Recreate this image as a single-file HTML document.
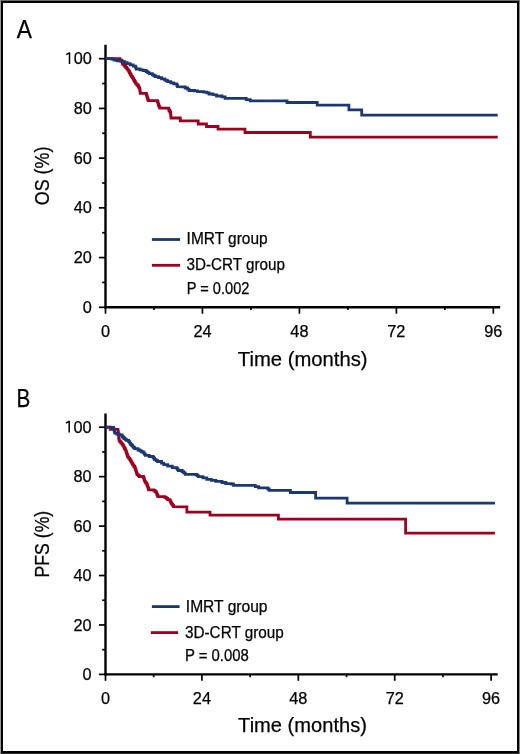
<!DOCTYPE html>
<html><head><meta charset="utf-8"><title>Kaplan-Meier OS and PFS</title>
<style>
html,body{margin:0;padding:0;background:#fff;}
body{width:520px;height:754px;overflow:hidden;position:relative;}
.frame{position:absolute;left:0;top:0;width:520px;height:754px;box-sizing:border-box;border:1px solid;border-color:#6a6a6a #888 #333 #999;}
.inner{position:absolute;left:1px;top:1px;width:518px;height:752px;box-sizing:border-box;border:2px solid #000;}
svg{position:absolute;left:0;top:0;will-change:transform;}
text{font-family:"Liberation Sans", sans-serif;fill:#000;stroke:#000;stroke-width:0.25px;}
</style></head>
<body>
<div class="frame"></div>
<div class="inner"></div>
<svg width="520" height="754" viewBox="0 0 520 754">
<line x1="105.5" y1="44.8" x2="105.5" y2="308.5" stroke="#000" stroke-width="2.4"/>
<line x1="104.3" y1="307.3" x2="500.2" y2="307.3" stroke="#000" stroke-width="2.4"/>
<line x1="98.9" y1="307.30" x2="105.5" y2="307.30" stroke="#000" stroke-width="1.7"/>
<text x="91.8" y="312.90" text-anchor="end" font-size="16.3">0</text>
<line x1="102.2" y1="282.44" x2="105.5" y2="282.44" stroke="#000" stroke-width="1.7"/>
<line x1="98.9" y1="257.58" x2="105.5" y2="257.58" stroke="#000" stroke-width="1.7"/>
<text x="91.8" y="263.18" text-anchor="end" font-size="16.3">20</text>
<line x1="102.2" y1="232.72" x2="105.5" y2="232.72" stroke="#000" stroke-width="1.7"/>
<line x1="98.9" y1="207.86" x2="105.5" y2="207.86" stroke="#000" stroke-width="1.7"/>
<text x="91.8" y="213.46" text-anchor="end" font-size="16.3">40</text>
<line x1="102.2" y1="183.00" x2="105.5" y2="183.00" stroke="#000" stroke-width="1.7"/>
<line x1="98.9" y1="158.14" x2="105.5" y2="158.14" stroke="#000" stroke-width="1.7"/>
<text x="91.8" y="163.74" text-anchor="end" font-size="16.3">60</text>
<line x1="102.2" y1="133.28" x2="105.5" y2="133.28" stroke="#000" stroke-width="1.7"/>
<line x1="98.9" y1="108.42" x2="105.5" y2="108.42" stroke="#000" stroke-width="1.7"/>
<text x="91.8" y="114.02" text-anchor="end" font-size="16.3">80</text>
<line x1="102.2" y1="83.56" x2="105.5" y2="83.56" stroke="#000" stroke-width="1.7"/>
<line x1="98.9" y1="58.70" x2="105.5" y2="58.70" stroke="#000" stroke-width="1.7"/>
<text x="91.8" y="64.30" text-anchor="end" font-size="16.3">00</text>
<path d="M66.30,54.70 L69.60,52.70 M69.50,52.60 L69.50,64.00" fill="none" stroke="#000" stroke-width="1.5"/>
<line x1="105.50" y1="307.3" x2="105.50" y2="313.7" stroke="#000" stroke-width="1.7"/>
<text x="105.50" y="336.8" text-anchor="middle" font-size="16.3">0</text>
<line x1="153.98" y1="307.3" x2="153.98" y2="310.1" stroke="#000" stroke-width="1.7"/>
<line x1="202.46" y1="307.3" x2="202.46" y2="313.7" stroke="#000" stroke-width="1.7"/>
<text x="202.46" y="336.8" text-anchor="middle" font-size="16.3">24</text>
<line x1="250.94" y1="307.3" x2="250.94" y2="310.1" stroke="#000" stroke-width="1.7"/>
<line x1="299.42" y1="307.3" x2="299.42" y2="313.7" stroke="#000" stroke-width="1.7"/>
<text x="299.42" y="336.8" text-anchor="middle" font-size="16.3">48</text>
<line x1="347.90" y1="307.3" x2="347.90" y2="310.1" stroke="#000" stroke-width="1.7"/>
<line x1="396.38" y1="307.3" x2="396.38" y2="313.7" stroke="#000" stroke-width="1.7"/>
<text x="396.38" y="336.8" text-anchor="middle" font-size="16.3">72</text>
<line x1="444.86" y1="307.3" x2="444.86" y2="310.1" stroke="#000" stroke-width="1.7"/>
<line x1="493.34" y1="307.3" x2="493.34" y2="313.7" stroke="#000" stroke-width="1.7"/>
<text x="493.34" y="336.8" text-anchor="middle" font-size="16.3">96</text>
<polyline points="105.50,58.60 120.00,58.60 120.00,60.20 121.80,60.20 121.80,61.50 122.20,61.50 122.20,62.75 122.60,62.75 122.60,64.00 123.67,64.00 123.67,65.17 124.73,65.17 124.73,66.33 125.80,66.33 125.80,67.50 126.83,67.50 126.83,68.83 127.87,68.83 127.87,70.17 128.90,70.17 128.90,71.50 129.47,71.50 129.47,72.67 130.03,72.67 130.03,73.83 130.60,73.83 130.60,75.00 131.43,75.00 131.43,76.33 132.27,76.33 132.27,77.67 133.10,77.67 133.10,79.00 133.85,79.00 133.85,80.30 134.60,80.30 134.60,81.60 135.35,81.60 135.35,82.90 136.10,82.90 136.10,84.20 137.20,84.20 137.20,85.25 138.30,85.25 138.30,86.30 138.80,86.30 138.80,87.37 139.30,87.37 139.30,88.43 139.80,88.43 139.80,89.50 139.97,89.50 139.97,90.77 140.13,90.77 140.13,92.03 140.30,92.03 140.30,93.30 146.00,93.40 146.38,93.40 146.38,94.68 146.75,94.68 146.75,95.95 147.12,95.95 147.12,97.22 147.50,97.22 147.50,98.50 147.90,98.50 147.90,99.55 148.30,99.55 148.30,100.60 156.80,100.60 157.35,100.60 157.35,101.70 157.90,101.70 157.90,102.80 158.30,102.80 158.30,104.30 158.70,104.30 158.70,105.80 159.25,105.80 159.25,106.95 159.80,106.95 159.80,108.10 168.30,108.20 168.70,108.20 168.70,109.35 169.10,109.35 169.10,110.50 169.85,110.50 169.85,112.00 170.60,112.00 170.60,113.50 170.70,113.50 170.70,114.62 170.80,114.62 170.80,115.75 170.90,115.75 170.90,116.88 171.00,116.88 171.00,118.00 180.00,118.00 180.20,118.00 180.20,119.45 180.40,119.45 180.40,120.90 198.20,120.90 198.20,124.00 206.50,124.00 206.50,126.50 218.00,126.50 218.00,129.20 245.00,129.20 245.00,132.50 310.30,132.50 310.30,137.20 497.70,137.20" fill="none" stroke="#9f0020" stroke-width="2.8" stroke-linejoin="miter"/>
<polyline points="105.50,58.60 106.30,58.60 111.70,58.60 111.70,59.00 114.00,59.00 114.00,60.00 117.10,60.00 117.10,60.80 120.20,60.80 120.20,61.10 122.50,61.10 122.50,61.70 124.80,61.70 124.80,62.60 127.10,62.60 127.10,63.60 130.20,63.60 130.20,64.80 133.20,64.80 133.20,66.20 135.50,66.20 135.50,67.10 135.90,67.10 135.90,68.05 136.30,68.05 136.30,69.00 140.20,69.00 140.20,69.80 143.10,69.80 143.10,70.50 146.20,70.50 146.20,71.70 147.70,71.70 147.70,72.65 149.20,72.65 149.20,73.60 152.30,73.60 152.30,74.80 153.85,74.80 153.85,75.75 155.40,75.75 155.40,76.70 158.50,76.70 158.50,77.70 161.50,77.70 161.50,78.80 164.60,78.80 164.60,79.80 166.15,79.80 166.15,80.75 167.70,80.75 167.70,81.70 170.80,81.70 170.80,82.80 173.80,82.80 173.80,83.80 176.90,83.80 176.90,85.50 177.50,85.50 177.50,86.60 183.00,86.80 185.20,86.80 185.20,88.00 187.50,88.00 187.50,89.20 189.10,89.20 189.10,90.50 194.50,90.50 194.50,90.90 197.50,90.90 197.50,91.70 203.70,91.70 203.70,92.10 206.80,92.10 206.80,92.80 209.10,92.80 209.10,94.00 212.90,94.00 212.90,94.50 215.10,94.80 216.60,94.80 216.60,96.00 222.00,96.00 222.00,96.80 225.10,96.80 225.10,98.30 246.20,98.30 246.20,99.60 250.20,99.60 250.20,100.90 287.00,100.90 287.00,102.50 317.20,102.50 317.20,105.20 348.90,105.20 348.90,109.90 361.70,109.90 361.70,115.20 497.70,115.20" fill="none" stroke="#1c3870" stroke-width="2.8" stroke-linejoin="miter"/>
<line x1="151.9" y1="239.5" x2="180.1" y2="239.5" stroke="#1c3870" stroke-width="2.8"/>
<line x1="151.9" y1="265.3" x2="180.1" y2="265.3" stroke="#9f0020" stroke-width="2.8"/>
<text x="186.6" y="244.2" font-size="16.3" textLength="81" lengthAdjust="spacingAndGlyphs">IMRT group</text>
<text x="186.5" y="270.4" font-size="16.3" textLength="98.5" lengthAdjust="spacingAndGlyphs">3D-CRT group</text>
<text x="186.7" y="294.0" font-size="16.3" textLength="62.7" lengthAdjust="spacingAndGlyphs">P = 0.002</text>
<text x="16.7" y="38.2" font-size="26.3" textLength="15.2" lengthAdjust="spacingAndGlyphs">A</text>
<text x="237.8" y="365.5" font-size="20.6" textLength="129.8" lengthAdjust="spacingAndGlyphs">Time (months)</text>
<text transform="translate(48.7,205.2) rotate(-90)" x="0" y="0" font-size="20.8" textLength="58.6" lengthAdjust="spacingAndGlyphs">OS (%)</text>
<line x1="105.5" y1="413.4" x2="105.5" y2="675.6" stroke="#000" stroke-width="2.4"/>
<line x1="104.3" y1="674.4" x2="497.7" y2="674.4" stroke="#000" stroke-width="2.4"/>
<line x1="98.9" y1="674.40" x2="105.5" y2="674.40" stroke="#000" stroke-width="1.7"/>
<text x="91.5" y="680.00" text-anchor="end" font-size="16.3">0</text>
<line x1="102.2" y1="649.68" x2="105.5" y2="649.68" stroke="#000" stroke-width="1.7"/>
<line x1="98.9" y1="624.96" x2="105.5" y2="624.96" stroke="#000" stroke-width="1.7"/>
<text x="91.5" y="630.56" text-anchor="end" font-size="16.3">20</text>
<line x1="102.2" y1="600.24" x2="105.5" y2="600.24" stroke="#000" stroke-width="1.7"/>
<line x1="98.9" y1="575.52" x2="105.5" y2="575.52" stroke="#000" stroke-width="1.7"/>
<text x="91.5" y="581.12" text-anchor="end" font-size="16.3">40</text>
<line x1="102.2" y1="550.80" x2="105.5" y2="550.80" stroke="#000" stroke-width="1.7"/>
<line x1="98.9" y1="526.08" x2="105.5" y2="526.08" stroke="#000" stroke-width="1.7"/>
<text x="91.5" y="531.68" text-anchor="end" font-size="16.3">60</text>
<line x1="102.2" y1="501.36" x2="105.5" y2="501.36" stroke="#000" stroke-width="1.7"/>
<line x1="98.9" y1="476.64" x2="105.5" y2="476.64" stroke="#000" stroke-width="1.7"/>
<text x="91.5" y="482.24" text-anchor="end" font-size="16.3">80</text>
<line x1="102.2" y1="451.92" x2="105.5" y2="451.92" stroke="#000" stroke-width="1.7"/>
<line x1="98.9" y1="427.20" x2="105.5" y2="427.20" stroke="#000" stroke-width="1.7"/>
<text x="91.5" y="432.80" text-anchor="end" font-size="16.3">00</text>
<path d="M66.00,423.20 L69.30,421.20 M69.20,421.10 L69.20,432.50" fill="none" stroke="#000" stroke-width="1.5"/>
<line x1="105.50" y1="674.4" x2="105.50" y2="680.8" stroke="#000" stroke-width="1.7"/>
<text x="105.50" y="703.5" text-anchor="middle" font-size="16.3">0</text>
<line x1="153.70" y1="674.4" x2="153.70" y2="677.1999999999999" stroke="#000" stroke-width="1.7"/>
<line x1="201.91" y1="674.4" x2="201.91" y2="680.8" stroke="#000" stroke-width="1.7"/>
<text x="201.91" y="703.5" text-anchor="middle" font-size="16.3">24</text>
<line x1="250.11" y1="674.4" x2="250.11" y2="677.1999999999999" stroke="#000" stroke-width="1.7"/>
<line x1="298.32" y1="674.4" x2="298.32" y2="680.8" stroke="#000" stroke-width="1.7"/>
<text x="298.32" y="703.5" text-anchor="middle" font-size="16.3">48</text>
<line x1="346.52" y1="674.4" x2="346.52" y2="677.1999999999999" stroke="#000" stroke-width="1.7"/>
<line x1="394.72" y1="674.4" x2="394.72" y2="680.8" stroke="#000" stroke-width="1.7"/>
<text x="394.72" y="703.5" text-anchor="middle" font-size="16.3">72</text>
<line x1="442.93" y1="674.4" x2="442.93" y2="677.1999999999999" stroke="#000" stroke-width="1.7"/>
<line x1="491.13" y1="674.4" x2="491.13" y2="680.8" stroke="#000" stroke-width="1.7"/>
<text x="491.13" y="703.5" text-anchor="middle" font-size="16.3">96</text>
<polyline points="105.50,427.20 110.30,427.20 110.30,429.40 118.00,429.40 118.30,432.00 118.40,432.00 118.40,433.35 118.50,433.35 118.50,434.70 118.60,434.70 118.60,436.05 118.70,436.05 118.70,437.40 118.87,437.40 118.87,438.53 119.03,438.53 119.03,439.67 119.20,439.67 119.20,440.80 120.15,440.80 120.15,442.00 121.10,442.00 121.10,443.20 122.05,443.20 122.05,444.40 123.00,444.40 123.00,445.60 123.75,445.60 123.75,447.05 124.50,447.05 124.50,448.50 125.20,448.50 125.20,449.95 125.90,449.95 125.90,451.40 126.40,451.40 126.40,452.85 126.90,452.85 126.90,454.30 127.40,454.30 127.40,455.75 127.90,455.75 127.90,457.20 128.85,457.20 128.85,458.40 129.80,458.40 129.80,459.60 130.50,459.60 130.50,460.80 131.20,460.80 131.20,462.00 131.95,462.00 131.95,463.40 132.70,463.40 132.70,464.80 133.75,464.80 133.75,466.25 134.80,466.25 134.80,467.70 135.17,467.70 135.17,468.73 135.53,468.73 135.53,469.77 135.90,469.77 135.90,470.80 136.30,470.80 136.30,472.07 136.70,472.07 136.70,473.33 137.10,473.33 137.10,474.60 138.25,474.60 138.25,475.55 139.40,475.55 139.40,476.50 143.50,476.50 143.50,477.50 143.87,477.50 143.87,478.73 144.23,478.73 144.23,479.97 144.60,479.97 144.60,481.20 145.37,481.20 145.37,482.33 146.13,482.33 146.13,483.47 146.90,483.47 146.90,484.60 147.35,484.60 147.35,485.90 147.80,485.90 147.80,487.20 148.25,487.20 148.25,488.50 148.70,488.50 148.70,489.80 153.80,489.80 153.80,490.40 155.00,490.40 155.00,491.55 156.20,491.55 156.20,492.70 156.77,492.70 156.77,494.03 157.33,494.03 157.33,495.37 157.90,495.37 157.90,496.70 164.80,496.70 164.80,497.30 166.25,497.30 166.25,498.45 167.70,498.45 167.70,499.60 170.00,499.60 170.00,500.80 170.57,500.80 170.57,501.93 171.13,501.93 171.13,503.07 171.70,503.07 171.70,504.20 172.60,504.20 172.60,505.45 173.50,505.45 173.50,506.70 186.90,506.90 186.90,512.10 210.00,512.10 210.00,515.20 278.40,515.20 278.40,519.10 405.60,519.10 405.60,533.10 494.90,533.10" fill="none" stroke="#9f0020" stroke-width="2.8" stroke-linejoin="miter"/>
<polyline points="105.50,427.20 112.50,427.40 113.60,427.40 113.60,428.50 113.90,428.50 113.90,429.65 114.20,429.65 114.20,430.80 114.50,430.80 114.50,431.95 114.80,431.95 114.80,433.10 116.70,433.10 116.70,434.20 119.40,434.20 119.40,435.00 122.10,435.00 122.10,436.50 123.05,436.50 123.05,437.50 124.00,437.50 124.00,438.50 125.15,438.50 125.15,439.45 126.30,439.45 126.30,440.40 128.60,440.40 128.60,441.70 129.65,441.70 129.65,443.10 130.70,443.10 130.70,444.50 131.75,444.50 131.75,445.65 132.80,445.65 132.80,446.80 133.80,446.80 133.80,447.75 134.80,447.75 134.80,448.70 138.00,448.70 138.00,450.00 140.00,450.00 140.00,450.80 141.55,450.80 141.55,451.75 143.10,451.75 143.10,452.70 144.25,452.70 144.25,454.05 145.40,454.05 145.40,455.40 149.20,455.40 149.20,456.50 153.10,456.50 153.10,457.30 153.85,457.30 153.85,458.45 154.60,458.45 154.60,459.60 156.15,459.60 156.15,460.55 157.70,460.55 157.70,461.50 161.50,461.50 161.50,463.10 163.80,463.10 163.80,464.60 167.70,464.60 167.70,466.20 172.30,466.20 172.30,467.70 176.90,467.70 176.90,468.70 177.60,468.70 177.60,469.60 178.30,469.60 178.30,470.50 182.20,470.50 182.20,471.60 183.70,471.60 183.70,472.95 185.20,472.95 185.20,474.30 196.00,474.30 196.00,474.70 197.15,474.70 197.15,475.65 198.30,475.65 198.30,476.60 202.90,476.60 202.90,477.80 206.80,477.80 206.80,479.30 211.40,479.30 211.40,480.40 215.80,480.40 215.80,481.30 222.00,481.30 222.00,482.50 225.80,482.50 225.80,483.60 231.20,483.60 231.20,484.00 233.50,484.00 233.50,485.30 254.30,485.30 255.30,485.30 255.30,486.70 257.70,486.70 258.70,486.70 258.70,487.80 266.80,487.80 267.80,487.80 267.80,489.00 269.20,489.00 269.20,490.40 290.40,490.40 290.40,492.50 315.60,492.50 315.60,498.20 347.10,498.20 347.10,503.10 494.90,503.10" fill="none" stroke="#1c3870" stroke-width="2.8" stroke-linejoin="miter"/>
<line x1="151.9" y1="606.6" x2="179.6" y2="606.6" stroke="#1c3870" stroke-width="2.8"/>
<line x1="150.8" y1="632.6" x2="178.1" y2="632.6" stroke="#9f0020" stroke-width="2.8"/>
<text x="185.8" y="611.9" font-size="16.3" textLength="81.7" lengthAdjust="spacingAndGlyphs">IMRT group</text>
<text x="185.0" y="638.2" font-size="16.3" textLength="98.8" lengthAdjust="spacingAndGlyphs">3D-CRT group</text>
<text x="184.9" y="661.4" font-size="16.3" textLength="64" lengthAdjust="spacingAndGlyphs">P = 0.008</text>
<text x="16.4" y="406.9" font-size="26.6" textLength="13.8" lengthAdjust="spacingAndGlyphs">B</text>
<text x="238.1" y="732.4" font-size="20.6" textLength="128.8" lengthAdjust="spacingAndGlyphs">Time (months)</text>
<text transform="translate(48.6,577.4) rotate(-90)" x="0" y="0" font-size="20.8" textLength="66.6" lengthAdjust="spacingAndGlyphs">PFS (%)</text>
</svg>
</body></html>
